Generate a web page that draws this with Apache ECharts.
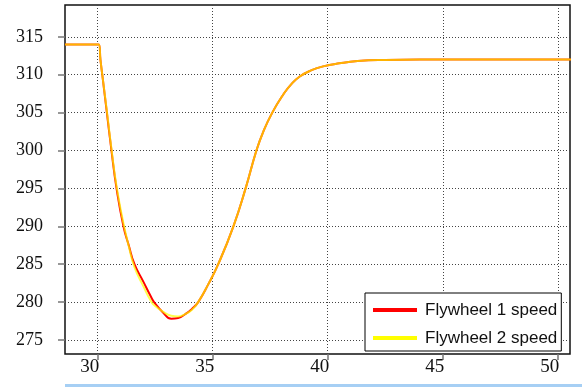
<!DOCTYPE html>
<html>
<head>
<meta charset="utf-8">
<script src="https://cdn.jsdelivr.net/npm/echarts@6/dist/echarts.min.js"></script>
<style>
  html, body { margin: 0; padding: 0; background: #fff; }
  #chart { width: 586px; height: 387px; }
</style>
</head>
<body>
<div id="chart"></div>
<script>
// time axis (s) and the two flywheel speeds
var times = [28.58, 30.05, 30.12, 30.2, 30.4, 30.6, 30.82, 31.12, 31.35, 31.6, 32.0, 32.3, 32.45, 32.85, 33.2, 33.5, 33.8, 34.1, 34.37, 34.8, 35.24, 35.9, 36.43, 36.9, 37.2, 37.59, 38.07, 38.4, 38.8, 39.3, 39.8, 40.5, 41.3, 42.5, 44, 51];
var speed1 = [314, 314, 312, 310, 305, 300, 295, 290, 287.5, 285, 282.6, 280.8, 280, 278.6, 277.8, 277.9, 278.4, 279.1, 280, 282.3, 285, 290, 295, 300, 302.5, 305, 307.4, 308.7, 309.8, 310.6, 311.1, 311.5, 311.8, 311.95, 312, 312];
var speed2 = [314, 314, 312, 310, 305.2, 300.2, 295.3, 290.4, 287.4, 284.6, 282.0, 280.2, 279.6, 278.7, 278.2, 278.1, 278.4, 279.0, 280, 282.3, 285, 290, 295, 300, 302.5, 305, 307.4, 308.7, 309.8, 310.6, 311.1, 311.5, 311.8, 311.95, 312, 312];
var names = ['Flywheel 1 speed', 'Flywheel 2 speed'];
var xTicks = [30, 35, 40, 45, 50];
var yTicks = [275, 280, 285, 290, 295, 300, 305, 310, 315];

function pairs(ys) {
  return times.map(function (t, i) { return [t, ys[i]]; });
}

var chart = echarts.init(document.getElementById('chart'));
var option = {
  animation: false,
  grid: {
    left: 65, top: 5, right: 16, bottom: 33,
    show: true,
    borderColor: '#111',
    borderWidth: 1.5,
    backgroundColor: '#fff'
  },
  legend: {
    orient: 'vertical',
    left: 365,
    top: 293,
    data: names,
    icon: 'rect',
    itemWidth: 44,
    itemHeight: 4,
    itemGap: 8,
    padding: [7, 4, 3, 8],
    borderColor: '#000',
    borderWidth: 1,
    backgroundColor: '#fff',
    textStyle: {
      fontFamily: 'Liberation Sans',
      fontSize: 17,
      lineHeight: 20,
      color: '#111',
      padding: [0, 0, 0, 3]
    }
  },
  xAxis: {
    type: 'value',
    min: 28.58,
    max: 50.53,
    axisLine: { show: false },
    axisTick: { show: true, customValues: xTicks, inside: false, length: 6, lineStyle: { color: '#777', width: 1.5 } },
    axisLabel: {
      customValues: xTicks,
      fontFamily: 'Liberation Serif',
      fontSize: 19,
      color: '#111',
      margin: 4,
      padding: [0, 16, 0, 0]
    },
    splitLine: { show: true, lineStyle: { color: '#444', type: [1, 2], width: 1 } }
  },
  yAxis: {
    type: 'value',
    min: 273.15,
    max: 319.2,
    axisLine: { show: false },
    axisTick: { show: true, customValues: yTicks, inside: false, length: 7, lineStyle: { color: '#777', width: 1.5 } },
    axisLabel: {
      customValues: yTicks,
      fontFamily: 'Liberation Serif',
      fontSize: 18,
      color: '#111',
      margin: 22
    },
    splitLine: { show: true, lineStyle: { color: '#444', type: [1, 2], width: 1 } }
  },
  graphic: [{
    type: 'rect',
    shape: { x: 65, y: 384, width: 517, height: 3 },
    style: { fill: '#a6cff4' },
    silent: true
  }],
  series: [{
    name: names[0],
    type: 'line',
    data: pairs(speed1),
    smooth: 0.5,
    showSymbol: false,
    symbol: 'none',
    clip: false,
    color: '#ff0000',
    lineStyle: { width: 2, color: '#ff0000' }
  }, {
    name: names[1],
    type: 'line',
    data: pairs(speed2),
    smooth: 0.5,
    showSymbol: false,
    symbol: 'none',
    clip: false,
    color: '#ffff00',
    lineStyle: { width: 2, color: '#ffff00', opacity: 0.7 }
  }]
};
chart.setOption(option);
</script>
</body>
</html>
